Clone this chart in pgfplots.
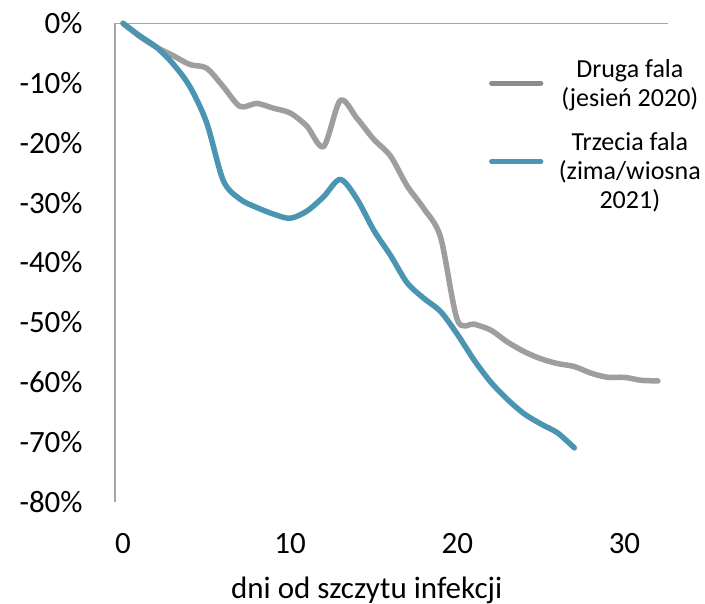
\documentclass[border=0pt]{standalone}
\usepackage{fontspec}
\setmainfont{Carlito}
\usepackage{pgfplots}
\pgfplotsset{compat=1.18}
\usetikzlibrary{calc}
\definecolor{fala2}{RGB}{158,158,158}
\definecolor{fala2leg}{RGB}{140,140,140}
\definecolor{fala3}{RGB}{75,149,178}
\definecolor{osie}{RGB}{166,166,166}
\begin{document}
\begin{tikzpicture}
\begin{axis}[
  name=ax,
  scale only axis,
  width=276.3pt, height=239.2pt,
  xmin=-0.48, xmax=32.58, ymin=-80, ymax=0,
  axis x line*=bottom, axis y line*=left,
  x axis line style={draw=none},
  y axis line style={draw=osie, line width=0.75pt},
  xtick={0,10,20,30}, ytick={-80,-70,...,0},
  major tick length=0pt,
  tick style={draw=none},
  /pgf/number format/assume math mode=true,
  yticklabel={\pgfmathprintnumber{\tick}\%},
  tick label style={font=\fontsize{15.5}{18}\selectfont},
  yticklabel style={inner sep=0pt, xshift=-16pt},
  xticklabel style={inner sep=0pt, yshift=-15.5pt},
  clip=false,
]
\draw[osie, line width=0.75pt] (axis cs:-0.48,0) -- (axis cs:32.58,0);

% druga fala (jesien 2020)
\addplot[fala2, line width=2.75pt, line cap=round, line join=round, smooth] coordinates {
 (0,0) (1,-2.2) (2,-4.0) (3,-5.4) (4,-6.9) (5,-7.5) (6,-10.6) (7,-13.9)
 (8,-13.4) (9,-14.2) (10,-15.0) (11,-17.2) (12,-20.6) (13,-12.9) (14,-15.9)
 (15,-19.4) (16,-22.2) (17,-27.2) (18,-31.0) (19,-35.8) (20,-49.6) (21,-50.3)
 (22,-51.3) (23,-53.3) (24,-54.9) (25,-56.1) (26,-56.9) (27,-57.4) (28,-58.5)
 (29,-59.2) (30,-59.2) (31,-59.7) (32,-59.8)};

% trzecia fala (zima/wiosna 2021)
\addplot[fala3, line width=2.75pt, line cap=round, line join=round, smooth] coordinates {
 (0,0) (1,-2.1) (2,-4.0) (3,-6.8) (4,-10.6) (5,-16.6) (6,-26.3) (7,-29.4)
 (8,-30.8) (9,-31.9) (10,-32.6) (11,-31.4) (12,-29.0) (13,-26.1) (14,-29.4)
 (15,-34.6) (16,-38.8) (17,-43.4) (18,-46.0) (19,-48.2) (20,-52.0) (21,-56.3)
 (22,-60.0) (23,-62.9) (24,-65.3) (25,-67.0) (26,-68.5) (27,-71.0)};

% legenda
\draw[fala2leg, line width=2.5pt, line cap=round] (axis cs:22.05,-10.03) -- (axis cs:25.0,-10.03);
\draw[fala3, line width=2.5pt, line cap=round] (axis cs:22.05,-23.14) -- (axis cs:25.0,-23.14);
\node[align=center, inner sep=0pt, font=\fontsize{13}{14.5}\selectfont]
  at (axis cs:30.32,-10.4) {Druga fala\\(jesień 2020)};
\node[align=center, inner sep=0pt, font=\fontsize{13}{14.5}\selectfont]
  at (axis cs:30.32,-24.87) {Trzecia fala\\(zima/wiosna\\2021)};
\end{axis}
\node[anchor=base, inner sep=0pt, font=\fontsize{15.5}{18}\selectfont]
  at ($(ax.south west)+(125.85pt,-48.3pt)$) {dni od szczytu infekcji};
\path[use as bounding box] ($(ax.south west)+(-57.5pt,-49.65pt)$) rectangle ($(ax.south west)+(295pt,250.85pt)$);
\end{tikzpicture}
\end{document}
